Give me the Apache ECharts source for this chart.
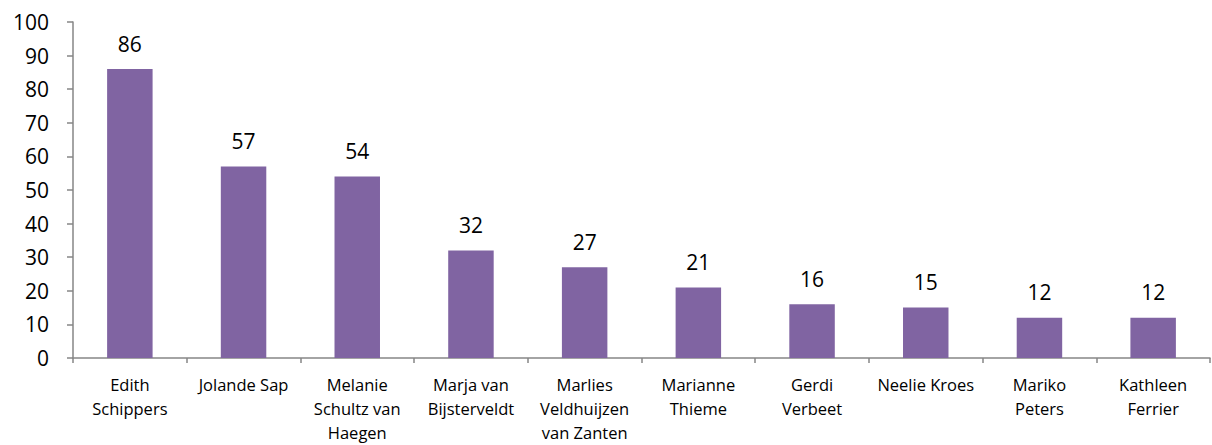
<!DOCTYPE html>
<html>
<head>
<meta charset="utf-8">
<script src="https://cdn.jsdelivr.net/npm/echarts@6/dist/echarts.min.js"></script>
<style>
  html, body { margin: 0; padding: 0; background: #fff; }
  #chart { width: 1212px; height: 445px; }
</style>
</head>
<body>
<div id="chart"></div>
<script>
    // namen en aantallen
    var names = ['Edith\nSchippers', 'Jolande Sap', 'Melanie\nSchultz van\nHaegen', 'Marja van\nBijsterveldt',
        'Marlies\nVeldhuijzen\nvan Zanten', 'Marianne\nThieme', 'Gerdi\nVerbeet', 'Neelie Kroes',
        'Mariko\nPeters', 'Kathleen\nFerrier'];
    var counts = [86, 57, 54, 32, 27, 21, 16, 15, 12, 12];
    var yTicks = { min: 0, max: 100, interval: 10 };

    var font = '"Open Sans", "Liberation Sans", sans-serif';

    echarts.init(document.getElementById('chart'), null, { renderer: 'svg' }).setOption({
        animation: false,
        grid: {
            left: 73,
            right: 2,
            top: 22,
            bottom: 87,
            outerBoundsMode: 'none'
        },
        xAxis: {
            type: 'category',
            data: names,
            axisLine: { lineStyle: { color: '#868686', width: 1.5 } },
            axisTick: { show: true, length: 5, lineStyle: { color: '#868686', width: 1.5 } },
            axisLabel: {
                color: '#000',
                fontFamily: font,
                fontSize: 16.5,
                lineHeight: 24,
                margin: 14,
                interval: 0
            }
        },
        yAxis: {
            type: 'value',
            min: yTicks.min,
            max: yTicks.max,
            interval: yTicks.interval,
            axisLine: { show: true, lineStyle: { color: '#868686', width: 1.5 } },
            axisTick: { show: true, length: 6, lineStyle: { color: '#868686', width: 1.5 } },
            splitLine: { show: false },
            axisLabel: {
                color: '#000',
                fontFamily: font,
                fontSize: 21,
                margin: 24
            }
        },
        series: [{
            type: 'bar',
            data: counts,
            barWidth: '40%',
            itemStyle: { color: '#8064A2' },
            label: {
                show: true,
                position: 'top',
                distance: 15,
                color: '#000',
                fontFamily: font,
                fontSize: 21
            }
        }]
    });
</script>
</body>
</html>
